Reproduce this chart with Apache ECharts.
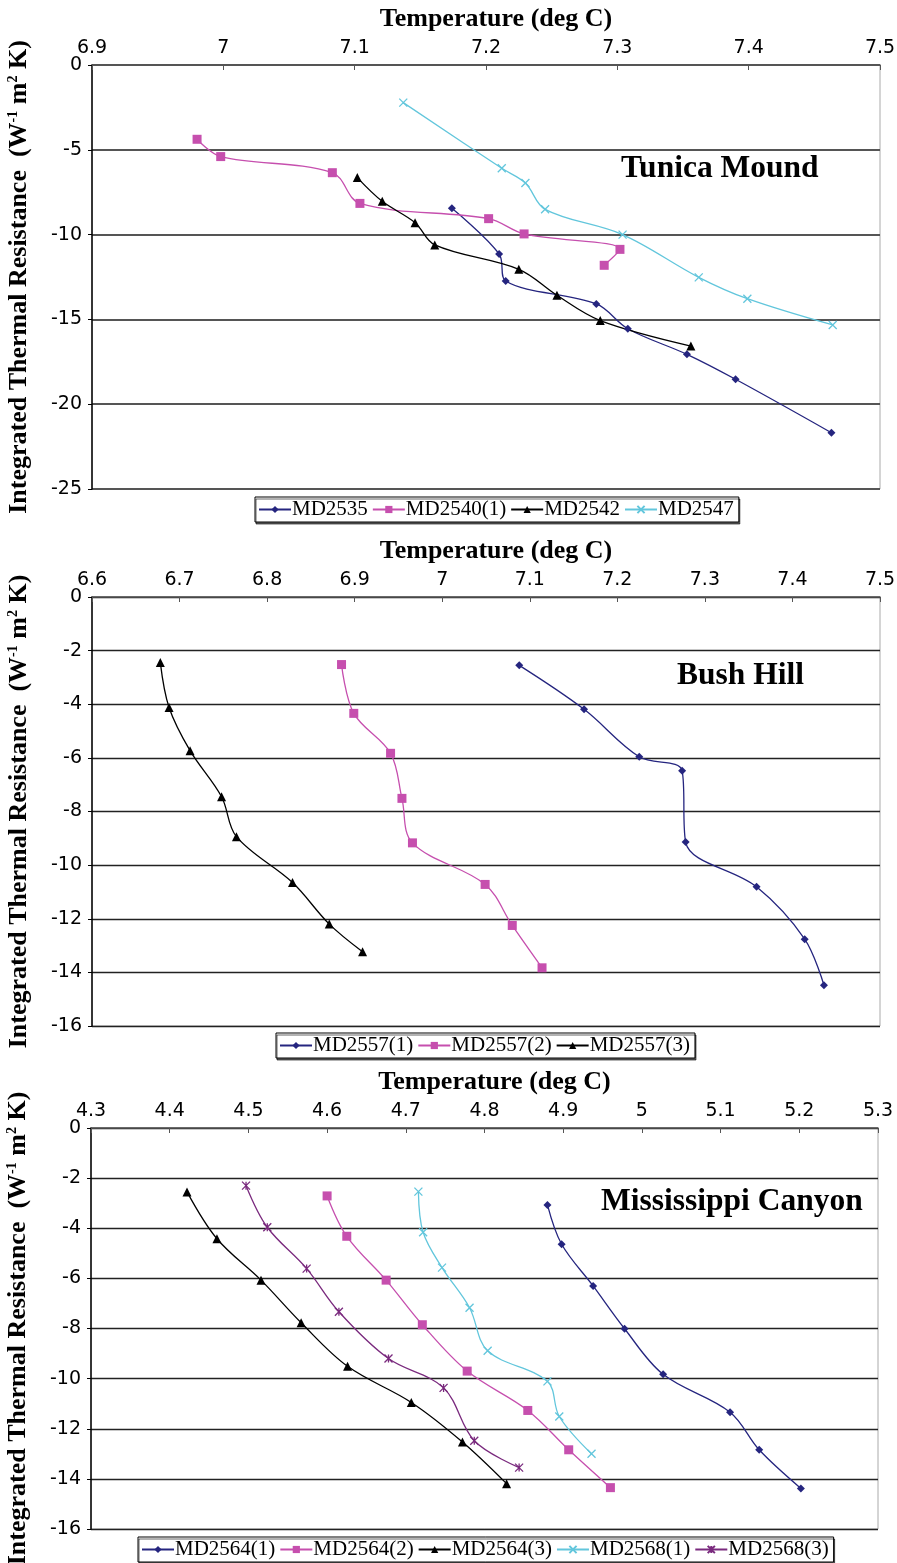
<!DOCTYPE html>
<html>
<head>
<meta charset="utf-8">
<script src="https://cdn.jsdelivr.net/npm/echarts@6/dist/echarts.min.js"></script>
<style>
html, body { margin: 0; padding: 0; background: #fff; }
#main { width: 897px; height: 1563px; }
</style>
</head>
<body>
<div id="main"></div>
<script>
const chartDom = document.getElementById('main');
const myChart = echarts.init(chartDom);

// Tunica Mound: temperature (deg C) / integrated thermal resistance
let md2535T = [7.174, 7.210, 7.215, 7.284, 7.308, 7.353, 7.390, 7.463];
let md2535R = [-8.45, -11.14, -12.74, -14.09, -15.55, -17.06, -18.53, -21.68];
let md2540T = [6.980, 6.998, 7.083, 7.104, 7.202, 7.229, 7.302, 7.290];
let md2540R = [-4.38, -5.40, -6.35, -8.16, -9.06, -9.96, -10.87, -11.81];
let md2542T = [7.102, 7.121, 7.146, 7.161, 7.225, 7.254, 7.287, 7.356];
let md2542R = [-6.64, -8.04, -9.30, -10.61, -12.05, -13.58, -15.07, -16.57];
let md2547T = [7.137, 7.212, 7.230, 7.245, 7.304, 7.362, 7.399, 7.464];
let md2547R = [-2.22, -6.09, -6.96, -8.51, -10.00, -12.52, -13.78, -15.33];

// Bush Hill
let md2557aT = [7.088, 7.162, 7.225, 7.274, 7.278, 7.359, 7.414, 7.436];
let md2557aR = [-2.55, -4.19, -5.96, -6.48, -9.14, -10.81, -12.76, -14.48];
let md2557bT = [6.885, 6.899, 6.941, 6.954, 6.966, 7.049, 7.080, 7.114];
let md2557bR = [-2.52, -4.34, -5.83, -7.51, -9.17, -10.72, -12.25, -13.83];
let md2557cT = [6.678, 6.688, 6.712, 6.748, 6.765, 6.829, 6.871, 6.909];
let md2557cR = [-2.44, -4.12, -5.73, -7.45, -8.94, -10.65, -12.20, -13.23];

// Mississippi Canyon
let md2564aT = [4.880, 4.898, 4.938, 4.978, 5.027, 5.112, 5.149, 5.202];
let md2564aR = [-3.07, -4.64, -6.30, -8.01, -9.83, -11.34, -12.84, -14.38];
let md2564bT = [4.600, 4.625, 4.675, 4.721, 4.778, 4.855, 4.907, 4.960];
let md2564bR = [-2.71, -4.32, -6.07, -7.85, -9.70, -11.27, -12.84, -14.35];
let md2564cT = [4.422, 4.460, 4.516, 4.567, 4.626, 4.707, 4.772, 4.828];
let md2564cR = [-2.55, -4.42, -6.07, -7.77, -9.51, -10.95, -12.53, -14.19];
let md2568aT = [4.716, 4.722, 4.746, 4.781, 4.804, 4.880, 4.895, 4.936];
let md2568aR = [-2.54, -4.16, -5.57, -7.17, -8.89, -10.11, -11.51, -13.00];
let md2568cT = [4.497, 4.524, 4.574, 4.615, 4.678, 4.748, 4.787, 4.844];
let md2568cR = [-2.30, -3.96, -5.61, -7.33, -9.20, -10.37, -12.48, -13.55];

const navy = '#25257f';
const magenta = '#c64fae';
const cyan = '#62c6dc';
const purple = '#7a2a7e';
const crossPath = 'path://M0,0L10,10M10,0L0,10';
const starPath = 'path://M0,0L10,10M10,0L0,10M5,0L5,10';

function zip(t, r) {
    return t.map((v, i) => [v, r[i]]);
}

function line(name, t, r, idx, color, symbol, size) {
    let stroked = symbol.indexOf('path://') === 0;
    return {
        name: name,
        type: 'line',
        xAxisIndex: idx,
        yAxisIndex: idx,
        smooth: 0.35,
        symbol: symbol,
        symbolSize: size,
        showAllSymbol: true,
        lineStyle: { color: color, width: 1.3 },
        itemStyle: stroked
            ? { color: 'rgba(0,0,0,0)', borderColor: color, borderWidth: 1.3 }
            : { color: color, borderWidth: 0 },
        data: zip(t, r)
    };
}

const serif = 'Liberation Serif';
const sans = 'DejaVu Sans';

function xAxis(idx, min, max) {
    return {
        type: 'value',
        gridIndex: idx,
        position: 'top',
        min: min,
        max: max,
        interval: 0.1,
        name: 'Temperature (deg C)',
        nameLocation: 'middle',
        nameGap: 33,
        nameTextStyle: {
            fontFamily: serif, fontWeight: 'bold', fontSize: 26, color: '#000',
            padding: [0, 0, 0, 20]
        },
        axisLine: { lineStyle: { color: '#555', width: 1.5 } },
        axisTick: { inside: true, length: 5, lineStyle: { color: '#555' } },
        axisLabel: { fontFamily: sans, fontSize: 19, color: '#000', margin: 7 },
        splitLine: { show: false }
    };
}

function yAxis(idx, min, interval, gridColor, gridWidth) {
    return {
        type: 'value',
        gridIndex: idx,
        min: min,
        max: 0,
        interval: interval,
        name: '{b|Integrated Thermal Resistance  (W}{s|-1}{b| m}{s|2}{b| K)}',
        nameLocation: 'middle',
        nameGap: 60,
        nameRotate: 90,
        nameTextStyle: {
            rich: {
                b: { fontFamily: serif, fontWeight: 'bold', fontSize: 26, color: '#000' },
                s: { fontFamily: serif, fontWeight: 'bold', fontSize: 14, color: '#000', verticalAlign: 'top' }
            }
        },
        axisLine: { show: true, lineStyle: { color: '#000', width: 1.5 } },
        axisTick: { show: true, length: 4, lineStyle: { color: '#000' } },
        axisLabel: { fontFamily: sans, fontSize: 19, color: '#000', margin: 10 },
        splitLine: { show: true, lineStyle: { color: gridColor, width: gridWidth } }
    };
}

function legend(names, left, top) {
    return {
        data: names,
        left: left,
        top: top,
        orient: 'horizontal',
        itemWidth: 32,
        itemHeight: 9,
        itemGap: 4,
        padding: [2, 5, 2, 3],
        borderColor: '#000',
        borderWidth: 1,
        shadowColor: 'rgba(0,0,0,0.6)',
        shadowOffsetX: 1,
        shadowOffsetY: 2,
        backgroundColor: '#fff',
        textStyle: { fontFamily: serif, fontSize: 21, color: '#000', padding: [0, 0, 0, -4] }
    };
}

function siteLabel(text, left, top) {
    return {
        type: 'text',
        left: left,
        top: top,
        style: { text: text, fontFamily: serif, fontWeight: 'bold', fontSize: 31.5, fill: '#000' }
    };
}

let option = {
    backgroundColor: '#fff',
    animation: false,
    grid: [
        { left: 92, top: 65, width: 788, height: 424, outerBoundsMode: 'none', show: true, borderColor: '#aaa', borderWidth: 1 },
        { left: 92, top: 597, width: 788, height: 429, outerBoundsMode: 'none', show: true, borderColor: '#aaa', borderWidth: 1 },
        { left: 91, top: 1128, width: 787, height: 401, outerBoundsMode: 'none', show: true, borderColor: '#aaa', borderWidth: 1 }
    ],
    xAxis: [
        xAxis(0, 6.9, 7.5),
        xAxis(1, 6.6, 7.5),
        xAxis(2, 4.3, 5.3)
    ],
    yAxis: [
        yAxis(0, -25, 5, '#555', 2),
        yAxis(1, -16, 2, '#222', 1.3),
        yAxis(2, -16, 2, '#222', 1.3)
    ],
    legend: [
        legend(['MD2535', 'MD2540(1)', 'MD2542', 'MD2547'], 255, 497),
        legend(['MD2557(1)', 'MD2557(2)', 'MD2557(3)'], 276, 1033),
        legend(['MD2564(1)', 'MD2564(2)', 'MD2564(3)', 'MD2568(1)', 'MD2568(3)'], 138, 1537)
    ],
    graphic: [
        siteLabel('Tunica Mound', 621, 153),
        siteLabel('Bush Hill', 677, 660),
        siteLabel('Mississippi Canyon', 601, 1186)
    ],
    series: [
        line('MD2535', md2535T, md2535R, 0, navy, 'diamond', 8),
        line('MD2540(1)', md2540T, md2540R, 0, magenta, 'rect', 9),
        line('MD2542', md2542T, md2542R, 0, '#000', 'triangle', 9),
        line('MD2547', md2547T, md2547R, 0, cyan, crossPath, 8),

        line('MD2557(1)', md2557aT, md2557aR, 1, navy, 'diamond', 8),
        line('MD2557(2)', md2557bT, md2557bR, 1, magenta, 'rect', 9),
        line('MD2557(3)', md2557cT, md2557cR, 1, '#000', 'triangle', 9),

        line('MD2564(1)', md2564aT, md2564aR, 2, navy, 'diamond', 8),
        line('MD2564(2)', md2564bT, md2564bR, 2, magenta, 'rect', 9),
        line('MD2564(3)', md2564cT, md2564cR, 2, '#000', 'triangle', 9),
        line('MD2568(1)', md2568aT, md2568aR, 2, cyan, crossPath, 8),
        line('MD2568(3)', md2568cT, md2568cR, 2, purple, starPath, 8)
    ]
};

myChart.setOption(option);
</script>
</body>
</html>
